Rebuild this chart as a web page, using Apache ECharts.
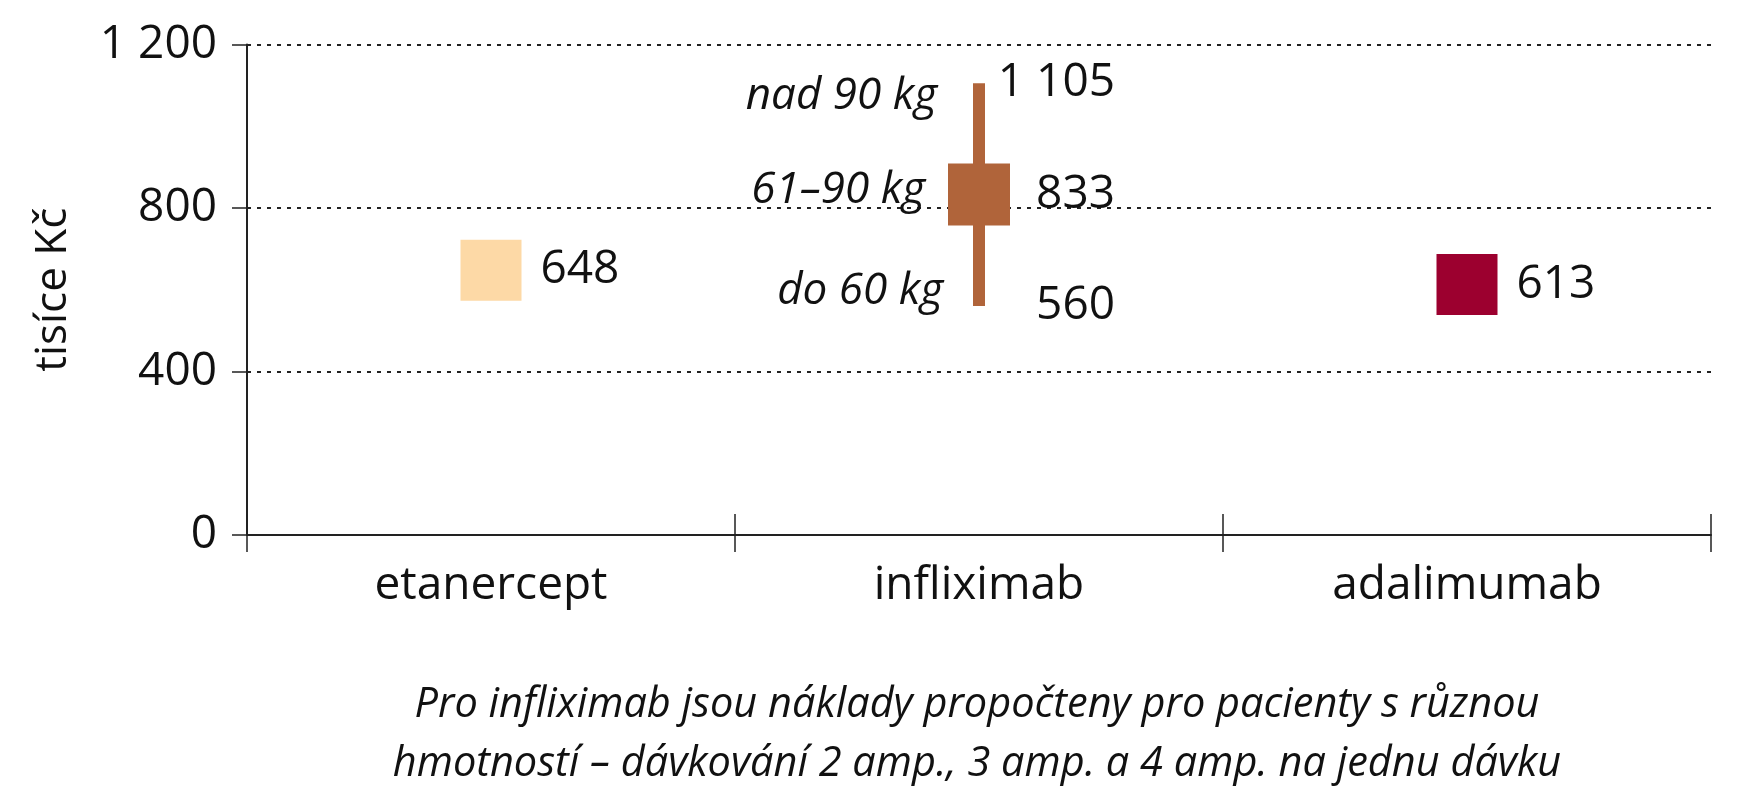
<!DOCTYPE html>
<html>
<head>
<meta charset="utf-8">
<script src="https://cdn.jsdelivr.net/npm/echarts@6/dist/echarts.min.js"></script>
<style>
  html, body { margin: 0; padding: 0; background: #fff; }
  #main { width: 1737px; height: 800px; }
</style>
</head>
<body>
<div id="main"></div>
<script>
// data
const categories = ['etanercept', 'infliximab', 'adalimumab'];
const costs = [648, 833, 613];
const infliximabRange = [560, 1105];
const weightCosts = [1105, 833, 560];
const weightGroups = ['nad 90 kg', '61–90 kg', 'do 60 kg'];
const yTicks = [0, 400, 800, 1200];
const captionLines = [
  'Pro infliximab jsou náklady propočteny pro pacienty s různou',
  'hmotností – dávkování 2 amp., 3 amp. a 4 amp. na jednu dávku'
];

const colors = ['#fdd9a6', '#b0643a', '#9c002f'];
const font = '"Open Sans", sans-serif';
const ink = '#111';

function fmt(v) {
  return String(v).replace(/\B(?=(\d{3})+(?!\d))/g, ' ');
}

// label offsets for the infliximab weight groups (layout only)
const groupOffsets = [[-42, 13], [-54, -4], [-36, -15]];

const chart = echarts.init(document.getElementById('main'));

chart.setOption({
  animation: false,
  grid: { left: 247, right: 26, top: 44.5, bottom: 265 },
  xAxis: [
    {
      type: 'category',
      data: categories,
      axisLine: { show: true, lineStyle: { color: '#222', width: 2 } },
      axisTick: { show: true, length: 17, lineStyle: { color: '#222', width: 1.5 } },
      axisLabel: { color: ink, fontFamily: font, fontSize: 46, margin: 28 }
    },
    {
      type: 'category',
      data: categories,
      position: 'bottom',
      axisLine: { show: false },
      axisTick: { show: true, inside: true, length: 21, lineStyle: { color: '#222', width: 1.5 } },
      axisLabel: { show: false },
      splitLine: { show: false }
    }
  ],
  yAxis: {
    type: 'value',
    min: yTicks[0],
    max: yTicks[yTicks.length - 1],
    interval: yTicks[1] - yTicks[0],
    name: 'tisíce Kč',
    nameLocation: 'middle',
    nameGap: 172,
    nameRotate: 90,
    nameTextStyle: { color: ink, fontFamily: font, fontSize: 44 },
    axisLine: { show: true, lineStyle: { color: '#222', width: 2 } },
    axisTick: { show: true, length: 15, lineStyle: { color: '#222', width: 1.5 } },
    axisLabel: {
      color: ink, fontFamily: font, fontSize: 46, margin: 30,
      formatter: fmt
    },
    splitLine: {
      show: true,
      lineStyle: { color: '#222', width: 2, type: [4, 6] }
    }
  },
  series: [
    {
      type: 'line',
      data: infliximabRange.map(v => [categories[1], v]),
      showSymbol: false,
      lineStyle: { color: colors[1], width: 12, cap: 'butt', opacity: 1 },
      z: 2
    },
    {
      type: 'scatter',
      symbol: 'rect',
      z: 3,
      data: costs.map((v, i) => ({
        value: [categories[i], v],
        symbolSize: i === 1 ? [62, 62] : [61, 61],
        itemStyle: { color: colors[i], opacity: 1 },
        label: {
          show: i !== 1,
          position: 'right',
          distance: 19,
          formatter: () => fmt(v),
          color: ink, fontFamily: font, fontSize: 46
        }
      }))
    },
    {
      // cost labels of the infliximab weight groups
      type: 'scatter',
      symbolSize: 1,
      itemStyle: { color: 'rgba(0,0,0,0)', opacity: 1 },
      z: 4,
      data: weightCosts.map(v => ({
        value: [categories[1], v],
        label: {
          show: true,
          position: 'inside',
          align: 'right',
          verticalAlign: 'middle',
          offset: [136, 0],
          formatter: () => fmt(v),
          color: ink, fontFamily: font, fontSize: 46
        }
      }))
    },
    {
      // weight-group names
      type: 'scatter',
      symbolSize: 1,
      itemStyle: { color: 'rgba(0,0,0,0)', opacity: 1 },
      z: 4,
      data: weightCosts.map((v, i) => ({
        value: [categories[1], v],
        label: {
          show: true,
          position: 'inside',
          align: 'right',
          verticalAlign: 'middle',
          offset: groupOffsets[i],
          formatter: () => weightGroups[i],
          color: ink, fontFamily: font, fontSize: 44, fontStyle: 'italic'
        }
      }))
    }
  ],
  graphic: [
    {
      type: 'text',
      x: 977,
      y: 735,
      style: {
        text: captionLines.join('\n'),
        textAlign: 'center',
        textVerticalAlign: 'middle',
        fill: ink,
        font: 'italic 41.5px "Open Sans", sans-serif',
        lineHeight: 59
      }
    }
  ]
});
</script>
</body>
</html>
